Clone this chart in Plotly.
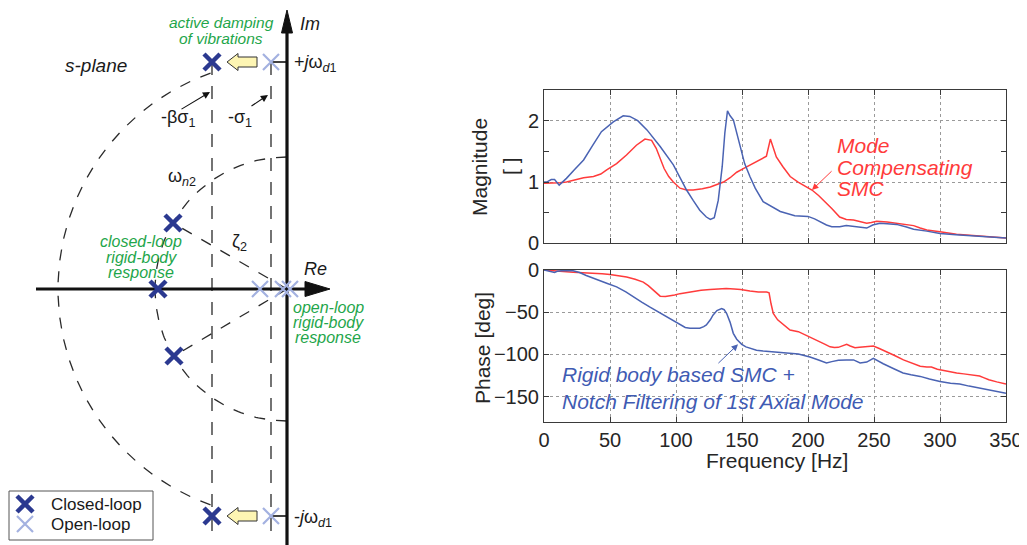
import numpy as np
import plotly.graph_objects as go

FONT = "Liberation Sans, Arial, sans-serif"
OFF = 8                      # page body margin of the browser
W, H = 1027 - OFF, 545 - OFF  # figure size so that it fits the window

# ---------------- Frequency response data ----------------
freq_mag_blue = [0, 2, 5.5, 8, 11.5, 17, 23, 30, 37, 43.5, 52.5, 60, 65, 71, 78, 88, 98, 103, 108, 113,
                 118, 123, 126, 129, 132, 135, 137, 139, 141, 143.5, 146, 148.5, 152, 156, 160, 166, 172,
                 179, 190, 200, 205, 209, 214, 218, 224, 229, 234.5, 240, 244.5, 249, 254.5, 260, 267,
                 274, 280, 290, 300, 312, 325, 337, 350]
mag_blue = [1.0, 1.0, 1.04, 1.04, 0.95, 1.06, 1.2, 1.36, 1.6, 1.82, 1.98, 2.08, 2.07, 2.0, 1.85, 1.58, 1.28,
            1.08, 0.87, 0.7, 0.54, 0.43, 0.39, 0.42, 0.7, 1.25, 1.8, 2.16, 2.08, 2.01, 1.8, 1.58, 1.3, 1.09,
            0.9, 0.68, 0.6, 0.52, 0.45, 0.44, 0.4, 0.35, 0.3, 0.27, 0.27, 0.29, 0.28, 0.26, 0.25, 0.3, 0.33,
            0.32, 0.31, 0.27, 0.23, 0.2, 0.16, 0.14, 0.12, 0.11, 0.09]

freq_mag_red = [0, 5, 12, 17, 22, 30, 37.5, 43, 47.5, 55, 62.5, 70, 76.5, 81.5, 85, 88, 91, 94.5, 98, 103,
                108, 113, 120, 126, 131, 136, 141, 146, 151, 158.5, 164, 168.5, 171.5, 174, 176, 181, 186.5,
                192.5, 197, 203, 208, 213, 218, 224, 229, 234.5, 239, 244.5, 248, 252, 260, 267, 273, 280,
                285, 290, 300, 312.5, 325, 337, 350]
mag_red = [0.98, 0.98, 0.99, 1.0, 1.03, 1.07, 1.09, 1.13, 1.2, 1.3, 1.44, 1.6, 1.7, 1.68, 1.55, 1.39, 1.22,
           1.09, 1.0, 0.9, 0.87, 0.87, 0.89, 0.92, 0.96, 1.0, 1.07, 1.16, 1.22, 1.31, 1.37, 1.42, 1.7, 1.52,
           1.41, 1.25, 1.09, 1.0, 0.95, 0.87, 0.78, 0.68, 0.57, 0.43, 0.39, 0.38, 0.36, 0.33, 0.34, 0.36,
           0.35, 0.33, 0.32, 0.29, 0.25, 0.22, 0.19, 0.15, 0.13, 0.11, 0.09]

freq_ph_blue = [0, 3, 6, 8, 10, 15, 22, 27, 32, 37, 42, 48, 55, 62, 67.7, 74, 80, 87, 93, 98, 103, 107,
                110.6, 115, 118, 121, 123, 126, 128, 131, 134.6, 136.5, 138.4, 141, 143.4, 146, 149.8, 153,
                156, 161, 166, 172, 179, 186, 192.7, 197, 201.5, 208, 214, 218, 223, 229, 234.5, 239.5,
                244.5, 249.5, 253, 257, 265, 272, 278, 285, 292, 300, 308, 315, 322, 330, 340, 350]
phase_blue = [0, -1, -2.5, -3, -1.5, -0.5, -1, -3, -6.5, -9, -12.4, -16, -20, -26, -32, -38, -43.7, -50,
              -55.5, -60, -65, -68, -69, -69.5, -69, -67, -65, -59, -53.5, -48, -45.7, -47, -51.5, -62,
              -75, -82, -88, -91, -92.7, -95, -96, -97, -97.5, -98.5, -99.4, -101, -103, -106.5, -110,
              -108.5, -107, -106.5, -106.5, -110, -109, -104.5, -108, -111, -117, -122, -124, -126, -129,
              -132, -134, -135, -137.5, -139.8, -143, -146]

freq_ph_red = [0, 5, 12, 22, 30, 37.4, 44, 50, 56, 62.6, 69, 75.2, 79, 82.8, 85.5, 88, 92, 95, 99, 103,
               108, 113, 119, 125.8, 132, 138, 144, 149, 156, 162.4, 168.7, 170.5, 172, 173.7, 177, 181.3,
               186.4, 192.7, 197, 201.5, 205, 209, 213, 216.7, 220, 223, 226, 229.3, 232, 235.6, 239, 242,
               246, 249.5, 254, 259.6, 266, 272.3, 279, 285, 290, 293.5, 298, 302.5, 307, 312.6, 318, 325,
               330, 333, 337, 343, 350]
phase_red = [0, -1, -1.5, -2.6, -3, -3.7, -4.5, -5.3, -6.5, -8.4, -11, -14.3, -18.5, -24, -28.5, -31,
             -31.5, -31, -29.5, -28, -26.5, -25, -24, -23, -22.5, -22, -22.5, -23, -25, -26, -26, -27, -40,
             -51.5, -59, -65, -71, -73, -76, -79, -82, -85, -88, -91, -91.8, -91.6, -90, -88, -90, -92,
             -91.5, -91, -90.5, -90, -93, -96.7, -101.5, -106.5, -110.5, -114, -115, -115, -117.5, -119,
             -120.5, -122, -123, -124, -125.6, -127.5, -130, -132.5, -135]

freq_ticks = [0, 50, 100, 150, 200, 250, 300, 350]
mag_ticks = [0, 1, 2]
phase_ticks = [-150, -100, -50, 0]

# ---------------- s-plane diagram values (drawing units) ----------------
omega_d1 = 227          # +/- j omega_d1
sigma1 = 16             # -sigma_1
beta_sigma1 = 75        # -beta sigma_1
omega_n2 = 132          # natural frequency of rigid-body pair
r_outer = 229           # outer arc radius
outer_arc_deg = [109.5, 250.5]
cl_re = [-75, -75, -114, -129, -113]
cl_im = [227, -227, 66, 0, -67]
ol_re = [-16, -16, -27, -4, 3]
ol_im = [227, -227, 0, 0, 0]
re_axis = [-251, 43]
im_axis = [-256, 279]
vline_bottom = -244
legend_names = ["Closed-loop", "Open-loop"]

BLUE = "#4a63b3"
RED = "#ff3b3b"
NAVY = "#2b3990"
LIGHT = "#a3b1e0"
GREEN = "#1fa64b"
DARK = "#1a1a1a"
DASH_LONG = "13px,11px"
DASH_ARC = "11px,11px"

# diagram origin in window pixels
OX, OY = 287, 289


def px_x(p):
    return (p - OFF) / W


def px_y(p):
    return (H - (p - OFF)) / H


fig = go.Figure()

# ---------------- right: frequency response plots ----------------
fig.add_trace(go.Scatter(x=freq_mag_red, y=mag_red, mode="lines", line=dict(color=RED, width=1.5),
                         xaxis="x", yaxis="y", showlegend=False))
fig.add_trace(go.Scatter(x=freq_mag_blue, y=mag_blue, mode="lines", line=dict(color=BLUE, width=1.5),
                         xaxis="x", yaxis="y", showlegend=False))
fig.add_trace(go.Scatter(x=freq_ph_red, y=phase_red, mode="lines", line=dict(color=RED, width=1.5),
                         xaxis="x2", yaxis="y2", showlegend=False))
fig.add_trace(go.Scatter(x=freq_ph_blue, y=phase_blue, mode="lines", line=dict(color=BLUE, width=1.5),
                         xaxis="x2", yaxis="y2", showlegend=False))


# ---------------- left: s-plane ----------------
def dline(x, y, dash, width=1.3, color="#2a2a2a"):
    fig.add_trace(go.Scatter(x=x, y=y, mode="lines", line=dict(color=color, width=width, dash=dash),
                             xaxis="x3", yaxis="y3", showlegend=False, hoverinfo="skip"))


for a0 in outer_arc_deg:
    th = np.radians(np.linspace(a0, 180, 80))
    dline(r_outer * np.cos(th), r_outer * np.sin(th), DASH_ARC)
for a0 in (90, 270):
    th = np.radians(np.linspace(a0, 180, 80))
    dline(omega_n2 * np.cos(th), omega_n2 * np.sin(th), DASH_ARC)
for s in (-beta_sigma1, -sigma1):
    dline([s, s], [omega_d1, vline_bottom], DASH_LONG)
for k in (2, 4):
    dline([0, cl_re[k]], [0, cl_im[k]], DASH_ARC)
for sgn in (1, -1):
    dline([-sigma1, 0], [sgn * omega_d1, sgn * omega_d1], None, width=1.6, color="#111")

dline([re_axis[0], re_axis[1] - 24], [0, 0], None, width=3.2, color="#111")
dline([0, 0], [im_axis[0], im_axis[1] - 22], None, width=3.2, color="#111")
fig.add_trace(go.Scatter(x=[re_axis[1] - 25, re_axis[1], re_axis[1] - 25, re_axis[1] - 25],
                         y=[7.5, 0, -7.5, 7.5], mode="lines", fill="toself", fillcolor="#111",
                         line=dict(color="#111", width=1), xaxis="x3", yaxis="y3", showlegend=False,
                         hoverinfo="skip"))
fig.add_trace(go.Scatter(x=[-5.5, 0, 5.5, -5.5],
                         y=[im_axis[1] - 23, im_axis[1], im_axis[1] - 23, im_axis[1] - 23],
                         mode="lines", fill="toself", fillcolor="#111",
                         line=dict(color="#111", width=1), xaxis="x3", yaxis="y3", showlegend=False,
                         hoverinfo="skip"))

for sgn in (1, -1):
    y0 = sgn * omega_d1
    xt, xb, xh = -30, -49, -60
    fig.add_trace(go.Scatter(x=[xt, xb, xb, xh, xb, xb, xt, xt],
                             y=[y0 + 5, y0 + 5, y0 + 8.5, y0, y0 - 8.5, y0 - 5, y0 - 5, y0 + 5],
                             mode="lines", fill="toself", fillcolor="#fdf5b3",
                             line=dict(color="#333", width=1), xaxis="x3", yaxis="y3",
                             showlegend=False, hoverinfo="skip"))

cl_marker = dict(symbol="x-thin", size=16, line=dict(color=NAVY, width=4.5), color=NAVY)
ol_marker = dict(symbol="x-thin", size=16, line=dict(color=LIGHT, width=2.2), color=LIGHT)
fig.add_trace(go.Scatter(x=cl_re, y=cl_im, mode="markers", name=legend_names[0], marker=cl_marker,
                         xaxis="x3", yaxis="y3", showlegend=False))
fig.add_trace(go.Scatter(x=ol_re, y=ol_im, mode="markers", name=legend_names[1], marker=ol_marker,
                         xaxis="x3", yaxis="y3", showlegend=False))

# hand-made legend box (bottom-left)
leg_x = 25 - OX
leg_y = [OY - 504, OY - 524]
fig.add_trace(go.Scatter(x=[leg_x], y=[leg_y[0]], mode="markers", marker=cl_marker,
                         xaxis="x3", yaxis="y3", showlegend=False, hoverinfo="skip"))
fig.add_trace(go.Scatter(x=[leg_x], y=[leg_y[1]], mode="markers", marker=ol_marker,
                         xaxis="x3", yaxis="y3", showlegend=False, hoverinfo="skip"))

# ---------------- annotations ----------------
ann = []


def txt(x, y, s, size, color=DARK, italic=False, xanchor="center", xref="x3", yref="y3", angle=0):
    if italic:
        s = "<i>" + s + "</i>"
    ann.append(dict(x=x, y=y, xref=xref, yref=yref, text=s, showarrow=False, textangle=angle,
                    font=dict(size=size, color=color, family=FONT), xanchor=xanchor, yanchor="middle"))


def arrow(x0, y0, x1, y1, color, xref="x3", yref="y3", width=1.1):
    ann.append(dict(x=x1, y=y1, ax=x0, ay=y0, xref=xref, yref=yref, axref=xref, ayref=yref, text="",
                    showarrow=True, arrowhead=2, arrowsize=1.3, arrowwidth=width, arrowcolor=color))


txt(-191.5, 224, "s-plane", 19, italic=True)
txt(-66, 267, "active damping", 15.5, GREEN, True)
txt(-66, 251, "of vibrations", 15.5, GREEN, True)
txt(11, 265, "Im", 18, italic=True, xanchor="left")
txt(15, 20, "Re", 18, italic=True, xanchor="left")
txt(5, omega_d1 - 1, "+<i>j</i>ω<sub><i>d</i>1</sub>", 18, xanchor="left")
txt(5, -omega_d1 - 2, "-<i>j</i>ω<sub><i>d</i>1</sub>", 18, xanchor="left")
txt(-109, 171, "-βσ<sub>1</sub>", 18)
txt(-47, 171, "-σ<sub>1</sub>", 18)
txt(-105, 112, "ω<sub><i>n</i>2</sub>", 18)
txt(-48, 47, "ζ<sub>2</sub>", 18)
for yy, s in zip([48, 32, 17], ["closed-loop", "rigid-body", "response"]):
    txt(-146, yy, s, 16, GREEN, True)
for yy, s in zip([-18, -33, -48], ["open-loop", "rigid-body", "response"]):
    txt(41, yy, s, 16, GREEN, True)
arrow(-107, 179, -77, 197, "#111")
arrow(-37, 182, -19, 194, "#111")
for yy, s in zip(leg_y, legend_names):
    txt(49 - OX, yy, s, 17, DARK, False, "left")

for yy, s in zip([1.6, 1.245, 0.9], ["Mode", "Compensating", "SMC"]):
    txt(220.5, yy, s, 21, RED, True, "left", "x", "y")
arrow(219, 1.2, 203, 0.87, RED, "x", "y", 1.0)
for yy, s in zip([-124, -156], ["Rigid body based SMC +", "Notch Filtering of 1st Axial Mode"]):
    txt(12, yy, s, 21, "#3f5bb3", True, "left", "x2", "y2")
arrow(131, -112, 147, -88, BLUE, "x2", "y2", 1.0)

txt(px_x(480), px_y(167), "Magnitude", 21, "#262626", False, "center", "paper", "paper", -90)
txt(px_x(510), px_y(166), "[ ]", 21, "#262626", False, "center", "paper", "paper", -90)
txt(px_x(482), px_y(348), "Phase [deg]", 21, "#262626", False, "center", "paper", "paper", -90)
txt(px_x(777), px_y(461), "Frequency [Hz]", 21, "#262626", False, "center", "paper", "paper")

axis_common = dict(showline=True, linecolor="#3a3a3a", linewidth=1, mirror="allticks", ticks="inside",
                   ticklen=5, tickcolor="#3a3a3a", showgrid=True, gridcolor="#9a9a9a", griddash="dot",
                   gridwidth=1, zeroline=False, automargin=False,
                   tickfont=dict(size=20, family=FONT, color="#262626"))

xdom = [px_x(544), px_x(1006)]
fig.update_layout(
    width=W, height=H, margin=dict(l=0, r=0, t=0, b=0, pad=0, autoexpand=False),
    paper_bgcolor="white", plot_bgcolor="white",
    font=dict(family=FONT, color=DARK),
    showlegend=False,
    xaxis=dict(domain=xdom, range=[0, 350], tickvals=freq_ticks, showticklabels=False,
               anchor="y", **axis_common),
    yaxis=dict(domain=[px_y(243.4), px_y(90)], range=[0, 2.5], tickvals=mag_ticks, anchor="x",
               minor=dict(dtick=0.5, ticks="inside", ticklen=5, tickcolor="#3a3a3a", showgrid=False),
               **axis_common),
    xaxis2=dict(domain=xdom, range=[0, 350], tickvals=freq_ticks, anchor="y2", **axis_common),
    yaxis2=dict(domain=[px_y(422), px_y(270)], range=[-180, 0], tickvals=phase_ticks, anchor="x2",
                **axis_common),
    xaxis3=dict(domain=[0, px_x(400)], range=[OFF - OX, 400 - OX], visible=False, anchor="y3",
                automargin=False),
    yaxis3=dict(domain=[0, 1], range=[OY - 545, OY - OFF], visible=False, anchor="x3",
                automargin=False),
    shapes=[dict(type="rect", xref="paper", yref="paper", x0=px_x(9), x1=px_x(153),
                 y0=px_y(540), y1=px_y(491), line=dict(color="#555", width=1), layer="below")],
    annotations=ann,
)

fig.write_html("out.html")
